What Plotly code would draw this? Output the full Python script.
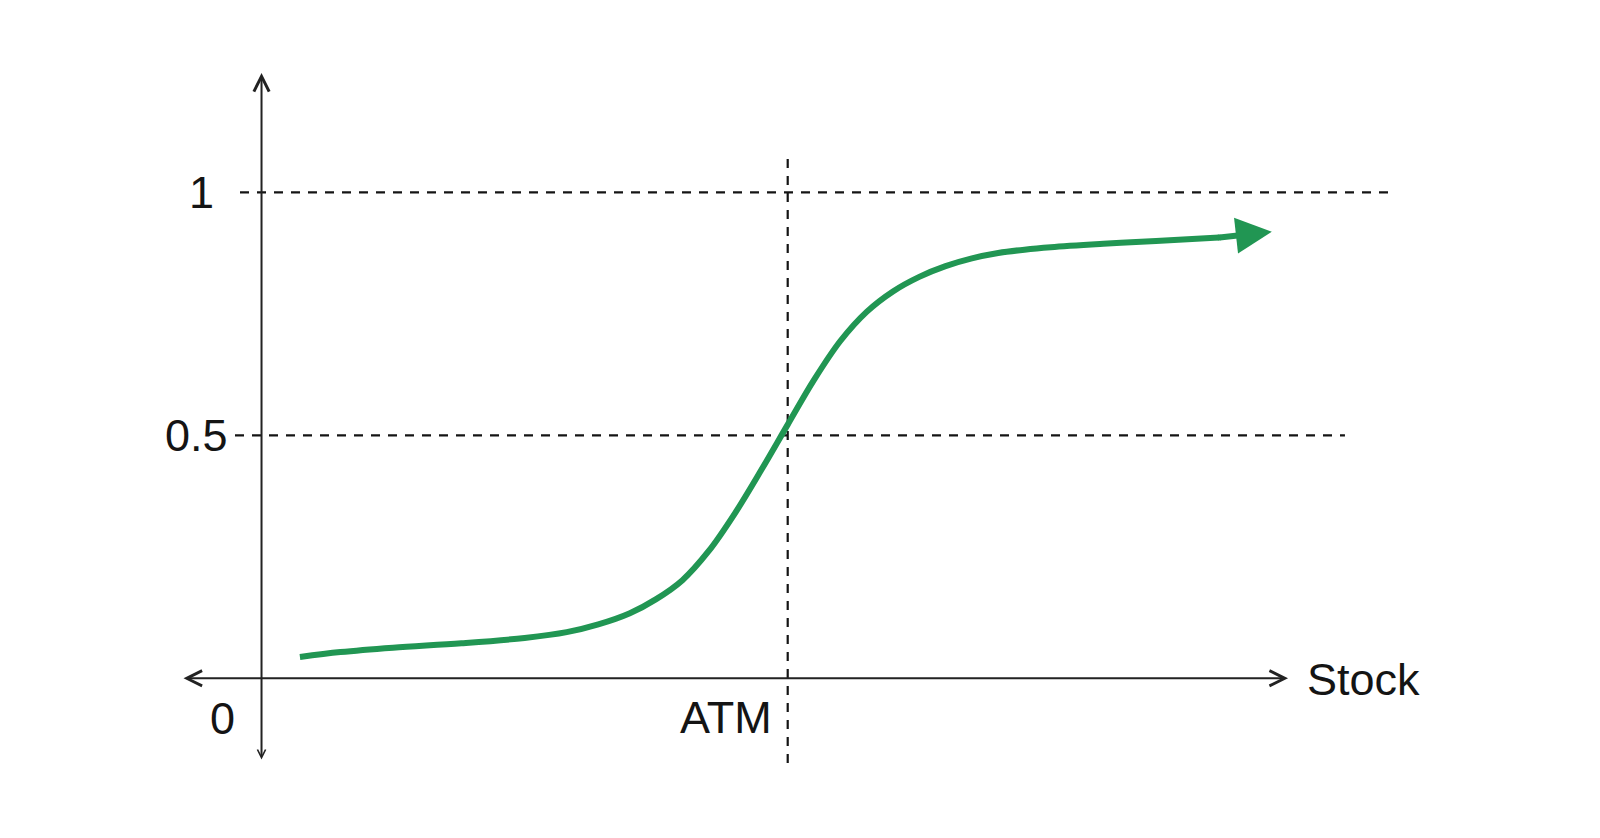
import plotly.graph_objects as go

# ---- data (stock price with ATM = 100, delta value) ----
stock = [7.3, 15, 25, 38, 50, 58, 64, 70, 75, 80, 85, 90, 95, 100, 105, 110, 115, 120,
         125, 130, 135, 140, 145, 150, 160, 170, 182, 192]
delta = [0.044, 0.054, 0.063, 0.072, 0.083, 0.095, 0.111, 0.134, 0.163, 0.202, 0.262,
         0.340, 0.429, 0.522, 0.614, 0.694, 0.754, 0.796, 0.826, 0.848, 0.864, 0.875,
         0.882, 0.887, 0.894, 0.900, 0.907, 0.919]

atm_strike = 100
y_levels = [1, 0.5]
y_level_labels = ["1", "0.5"]
origin_label = "0"
atm_label = "ATM"
x_axis_title = "Stock"

# ---- styling / layout constants ----
GREEN = "rgb(33,150,83)"
INK = "#141414"
AXIS = "#222222"
FONT = "Liberation Sans"
FS = 45
# page has an 8px body margin; figure sized to fill the window exactly
W, H = 1584, 822
X_RANGE = [-48.18, 252.85]
Y_RANGE = [-0.3121, 1.3792]
X_AXIS_EXT = [-14.92, 195.08]
Y_AXIS_EXT = [-0.168, 1.2455]
LEVEL_EXT = {1: [-4.09, 215.4], 0.5: [-5.04, 205.9]}
ATM_EXT = [-0.174, 1.0726]
DASH = "9px,8px"

fig = go.Figure()

# delta curve (shaft up to the arrow base)
fig.add_trace(go.Scatter(
    x=stock[:-1], y=delta[:-1], mode="lines",
    line=dict(color=GREEN, width=6, shape="spline", smoothing=1.0),
    hoverinfo="skip", showlegend=False,
))
# round joint where the curve meets the arrow shaft
fig.add_trace(go.Scatter(
    x=stock[-2:-1], y=delta[-2:-1], mode="markers",
    marker=dict(color=GREEN, size=6, line=dict(width=0)),
    hoverinfo="skip", showlegend=False,
))

shapes = []
for lv in y_levels:
    shapes.append(dict(type="line", xref="x", yref="y",
                       x0=LEVEL_EXT[lv][0], x1=LEVEL_EXT[lv][1], y0=lv, y1=lv,
                       line=dict(color=INK, width=2.2, dash=DASH), layer="below"))
shapes.append(dict(type="line", xref="x", yref="y",
                   x0=atm_strike, x1=atm_strike, y0=ATM_EXT[0], y1=ATM_EXT[1],
                   line=dict(color=INK, width=2.2, dash=DASH), layer="below"))

tiny = dict(size=1, color="rgba(0,0,0,0)")
annotations = []
# x axis with arrows at both ends
annotations.append(dict(x=X_AXIS_EXT[1], y=0, ax=X_AXIS_EXT[0], ay=0,
                        xref="x", yref="y", axref="x", ayref="y", text="", font=tiny,
                        borderpad=0, showarrow=True, arrowside="end+start",
                        arrowhead=5, startarrowhead=5, arrowsize=1.5, startarrowsize=1.5,
                        arrowwidth=2, arrowcolor=AXIS))
# y axis
annotations.append(dict(x=0, y=Y_AXIS_EXT[1], ax=0, ay=Y_AXIS_EXT[0],
                        xref="x", yref="y", axref="x", ayref="y", text="", font=tiny,
                        borderpad=0, showarrow=True, arrowside="end+start",
                        arrowhead=5, startarrowhead=5, arrowsize=1.5, startarrowsize=0.8,
                        arrowwidth=2, arrowcolor=AXIS))
# arrow head of the curve
annotations.append(dict(x=stock[-1], y=delta[-1], ax=stock[-2], ay=delta[-2],
                        xref="x", yref="y", axref="x", ayref="y", text="", font=tiny,
                        borderpad=0, showarrow=True, arrowhead=2, arrowsize=1.2,
                        arrowwidth=6, arrowcolor=GREEN))

font = dict(family=FONT, size=FS, color=INK)
label_x = {1: -8.6, 0.5: -6.0}
for lv, txt in zip(y_levels, y_level_labels):
    annotations.append(dict(x=label_x[lv], y=lv, xref="x", yref="y", text=txt,
                            showarrow=False, xanchor="right", yanchor="middle", font=font))
annotations.append(dict(x=-4.6, y=-0.082, xref="x", yref="y", text=origin_label,
                        showarrow=False, xanchor="right", yanchor="middle", font=font))
annotations.append(dict(x=atm_strike - 2.7, y=-0.080, xref="x", yref="y", text=atm_label,
                        showarrow=False, xanchor="right", yanchor="middle", font=font))
annotations.append(dict(x=198.4, y=-0.002, xref="x", yref="y", text=x_axis_title,
                        showarrow=False, xanchor="left", yanchor="middle", font=font))

fig.update_layout(
    width=W, height=H,
    margin=dict(l=0, r=0, t=0, b=0),
    paper_bgcolor="white", plot_bgcolor="white",
    xaxis=dict(range=X_RANGE, visible=False, fixedrange=True),
    yaxis=dict(range=Y_RANGE, visible=False, fixedrange=True),
    shapes=shapes, annotations=annotations, showlegend=False,
)

fig.write_html("out.html")
